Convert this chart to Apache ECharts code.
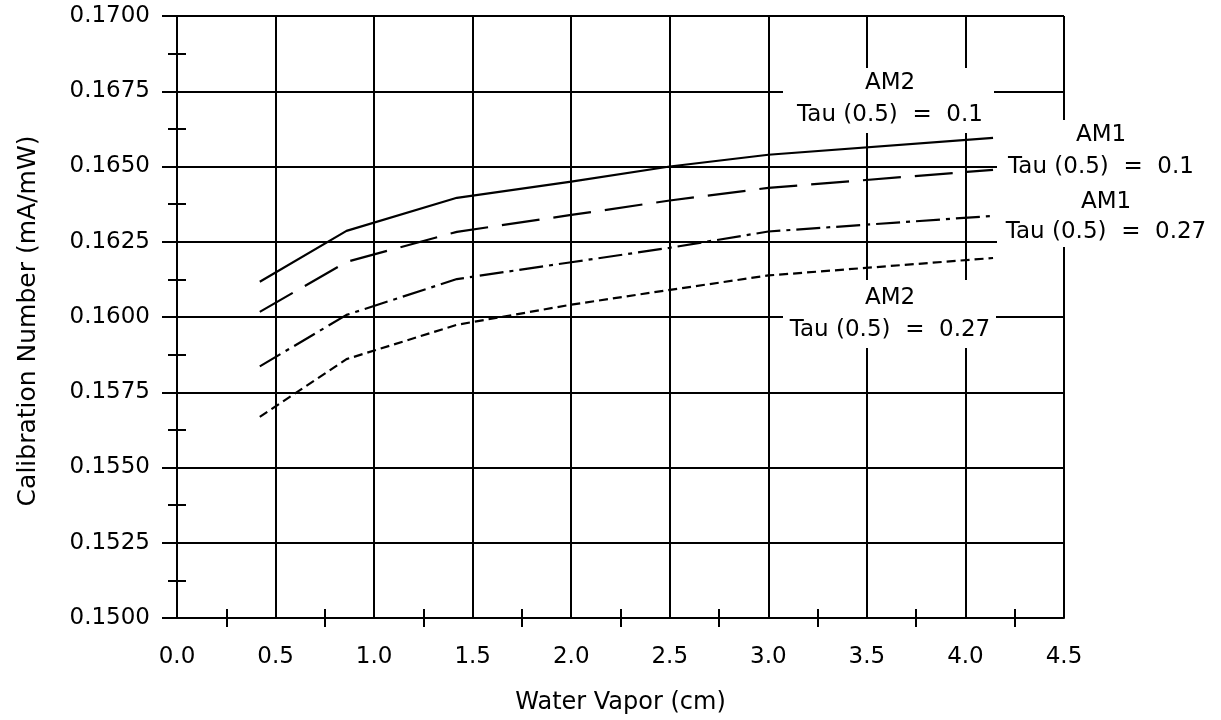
<!DOCTYPE html>
<html>
<head>
<meta charset="utf-8">
<script src="https://cdn.jsdelivr.net/npm/echarts@6/dist/echarts.min.js"></script>
<style>
html,body{margin:0;padding:0;background:#fff;}
#chart{width:1221px;height:720px;}
</style>
</head>
<body>
<div id="chart"></div>
<script>
// ---- data ----
const waterVapor = [0.42, 0.86, 1.42, 2.0, 2.5, 3.0, 4.14];
const am2Tau010 = [0.16117, 0.16286, 0.16396, 0.16450, 0.16500, 0.16539, 0.16595];
const am1Tau010 = [0.16017, 0.16183, 0.16283, 0.16339, 0.16387, 0.16429, 0.16489];
const am1Tau027 = [0.15836, 0.16007, 0.16126, 0.16182, 0.16230, 0.16284, 0.16336];
const am2Tau027 = [0.15668, 0.15860, 0.15974, 0.16041, 0.16090, 0.16138, 0.16196];
const seriesNames = ['AM2 Tau (0.5) = 0.1', 'AM1 Tau (0.5) = 0.1', 'AM1 Tau (0.5) = 0.27', 'AM2 Tau (0.5) = 0.27'];
const xTitle = 'Water Vapor (cm)';
const yTitle = 'Calibration Number (mA/mW)';
const labelLines = [
  ['AM2', 'Tau (0.5)  =  0.1'],
  ['AM1', 'Tau (0.5)  =  0.1'],
  ['AM1', 'Tau (0.5)  =  0.27'],
  ['AM2', 'Tau (0.5)  =  0.27']
];

const FONT = '"DejaVu Sans", "Liberation Sans", sans-serif';
const pair = ys => waterVapor.map((x, i) => [x, ys[i]]);
const lw = 2;
const sw = 2.2;

const chart = echarts.init(document.getElementById('chart'), null, {renderer: 'canvas'});

function lineSeries(name, ys, type) {
  return {
    name: name, type: 'line', xAxisIndex: 0, yAxisIndex: 0,
    data: pair(ys), symbol: 'none', smooth: false, z: 5,
    lineStyle: {color: '#000', width: sw, type: type}
  };
}

// annotation boxes & text (pixel layout)
const boxes = [
  {x: 783, y: 68, w: 211, h: 65},
  {x: 997, y: 120, w: 224, h: 127},
  {x: 783, y: 280, w: 213, h: 68}
];
const texts = [
  {x: 890, y: 83, t: labelLines[0][0]}, {x: 890, y: 115, t: labelLines[0][1]},
  {x: 1101, y: 135, t: labelLines[1][0]}, {x: 1101, y: 167, t: labelLines[1][1]},
  {x: 1106, y: 202, t: labelLines[2][0]}, {x: 1106, y: 232, t: labelLines[2][1]},
  {x: 890, y: 298, t: labelLines[3][0]}, {x: 890, y: 330, t: labelLines[3][1]}
];
const graphic = [];
boxes.forEach(b => graphic.push({type: 'rect', z: 50, shape: {x: b.x, y: b.y, width: b.w, height: b.h}, style: {fill: '#fff'}}));
texts.forEach(t => graphic.push({type: 'text', z: 60, style: {text: t.t, x: t.x, y: t.y, align: 'center', verticalAlign: 'middle', font: '23px ' + FONT, fill: '#000'}}));
graphic.push({type: 'text', z: 60, rotation: Math.PI / 2, x: 28, y: 321,
  style: {text: yTitle, x: 0, y: 0, align: 'center', verticalAlign: 'middle', font: '25px ' + FONT, fill: '#000'}});

const option = {
  animation: false,
  backgroundColor: '#fff',
  grid: {left: 177, right: 157, top: 16, bottom: 99},
  xAxis: [
    {
      type: 'value', min: 0, max: 4.5, interval: 0.5, position: 'bottom',
      name: xTitle, nameLocation: 'middle', nameGap: 73,
      nameTextStyle: {fontFamily: FONT, fontSize: 24, color: '#000'},
      axisLine: {show: true, onZero: false, lineStyle: {color: '#000', width: lw}},
      axisTick: {show: false},
      minorTick: {show: true, splitNumber: 2, length: 9, lineStyle: {color: '#000', width: lw}},
      axisLabel: {margin: 28, fontFamily: FONT, fontSize: 23, color: '#000', formatter: v => v.toFixed(1)},
      splitLine: {show: true, lineStyle: {color: '#000', width: lw}}
    },
    {
      type: 'value', min: 0, max: 4.5, interval: 0.25, position: 'bottom', offset: 0,
      axisLine: {show: false},
      axisTick: {show: true, inside: true, length: 9, lineStyle: {color: '#000', width: lw}},
      axisLabel: {show: false},
      splitLine: {show: false}
    }
  ],
  yAxis: [
    {
      type: 'value', min: 0.15, max: 0.17, interval: 0.0025, position: 'left',
      axisLine: {show: true, onZero: false, lineStyle: {color: '#000', width: lw}},
      axisTick: {show: true, length: 15, lineStyle: {color: '#000', width: lw}},
      minorTick: {show: true, splitNumber: 2, length: 9, lineStyle: {color: '#000', width: lw}},
      axisLabel: {margin: 27, fontFamily: FONT, fontSize: 23, color: '#000', formatter: v => v.toFixed(4)},
      splitLine: {show: true, lineStyle: {color: '#000', width: lw}}
    },
    {
      type: 'value', min: 0.15, max: 0.17, interval: 0.00125, position: 'left', offset: 0,
      axisLine: {show: false},
      axisTick: {show: true, inside: true, length: 9, lineStyle: {color: '#000', width: lw}},
      axisLabel: {show: false},
      splitLine: {show: false}
    }
  ],
  series: [
    lineSeries(seriesNames[0], am2Tau010, 'solid'),
    lineSeries(seriesNames[1], am1Tau010, [38, 14]),
    lineSeries(seriesNames[2], am1Tau027, [24, 6, 4, 6]),
    lineSeries(seriesNames[3], am2Tau027, [9, 5])
  ],
  graphic: graphic
};
chart.setOption(option);
</script>
</body>
</html>
